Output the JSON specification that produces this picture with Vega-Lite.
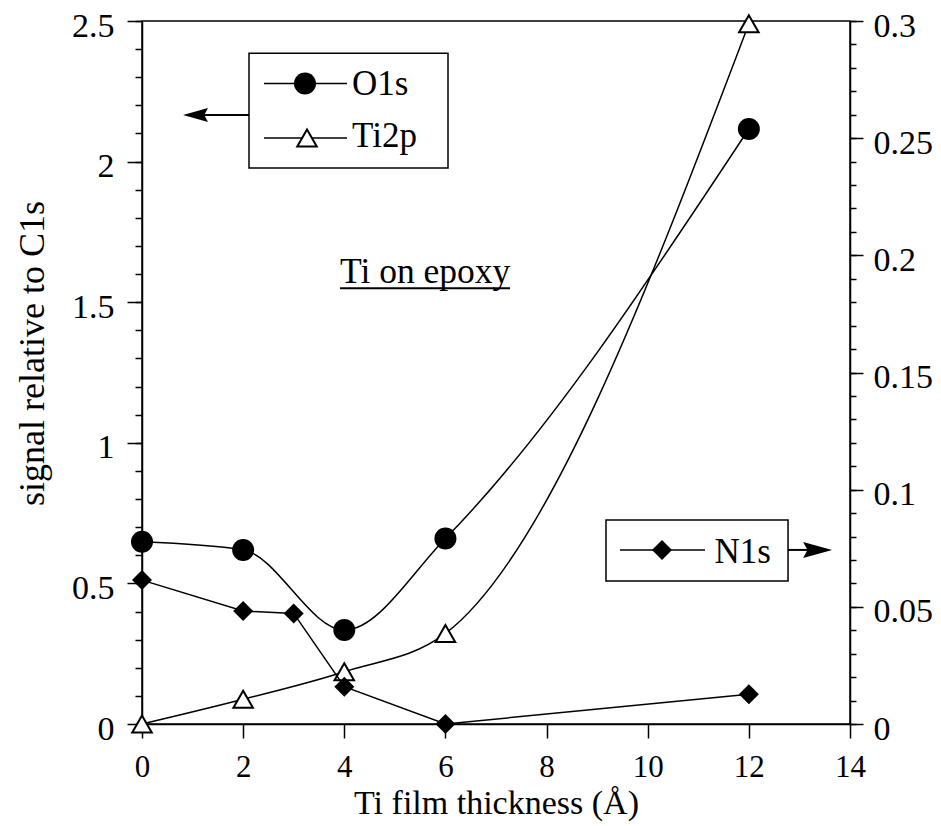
{
  "$schema": "https://vega.github.io/schema/vega-lite/v6.json",
  "width": 708,
  "height": 703,
  "autosize": {"type": "none"},
  "padding": {"left": 142, "top": 21, "right": 91, "bottom": 102},
  "background": "white",
  "config": {
    "font": "Liberation Serif, Times New Roman, serif",
    "view": {"stroke": "black", "strokeWidth": 1.5},
    "text": {"font": "Liberation Serif, Times New Roman, serif"},
    "axis": {
      "grid": false,
      "domainColor": "black",
      "domainWidth": 1.5,
      "tickColor": "black",
      "tickWidth": 1.5,
      "labelColor": "black",
      "labelFont": "Liberation Serif, Times New Roman, serif",
      "titleFont": "Liberation Serif, Times New Roman, serif",
      "titleColor": "black",
      "titleFontWeight": "normal",
      "labelFontSize": 34,
      "titleFontSize": 34,
      "labelOverlap": false
    }
  },
  "datasets": {
    "pts": [
      {"x": 0, "series": "O1s", "v": 0.648},
      {"x": 2, "series": "O1s", "v": 0.619},
      {"x": 4, "series": "O1s", "v": 0.334},
      {"x": 6, "series": "O1s", "v": 0.66},
      {"x": 12, "series": "O1s", "v": 2.116},
      {"x": 0, "series": "Ti2p", "v": 0.0},
      {"x": 2, "series": "Ti2p", "v": 0.088},
      {"x": 4, "series": "Ti2p", "v": 0.186},
      {"x": 6, "series": "Ti2p", "v": 0.322},
      {"x": 12, "series": "Ti2p", "v": 2.49},
      {"x": 0, "series": "N1s", "v": 0.0614},
      {"x": 2, "series": "N1s", "v": 0.0482},
      {"x": 3, "series": "N1s", "v": 0.0472},
      {"x": 4, "series": "N1s", "v": 0.0159},
      {"x": 6, "series": "N1s", "v": 0.0},
      {"x": 12, "series": "N1s", "v": 0.0127}
    ]
  },
  "layer": [
    {
      "layer": [
        {
          "data": {"name": "pts"},
          "transform": [{"filter": "datum.series === 'Ti2p'"}],
          "mark": {"type": "line", "interpolate": "monotone", "color": "black", "strokeWidth": 1.5},
          "encoding": {
            "x": {
              "field": "x",
              "type": "quantitative",
              "scale": {"domain": [0, 14], "nice": false},
              "axis": {
                "values": [0, 2, 4, 6, 8, 10, 12, 14],
                "tickSize": 14,
                "labelPadding": 14,
                "labelFontSize": 31,
                "labelFlush": false,
                "titlePadding": 4,
                "title": "Ti film thickness (Å)"
              }
            },
            "y": {
              "field": "v",
              "type": "quantitative",
              "scale": {"domain": [0, 2.5], "nice": false},
              "axis": {
                "orient": "left",
                "values": [0, 0.5, 1, 1.5, 2, 2.5],
                "format": "~g",
                "tickSize": 15,
                "labelPadding": 13,
                "labelOffset": 5,
                "titlePadding": 20,
                "titleFontSize": 36,
                "titleY": 332,
                "title": "signal relative to C1s"
              }
            }
          }
        },
        {
          "data": {"name": "pts"},
          "transform": [{"filter": "datum.series === 'Ti2p'"}],
          "mark": {"type": "point", "shape": "triangle-up", "filled": true, "fill": "white", "stroke": "black", "strokeWidth": 2, "size": 380, "opacity": 1},
          "encoding": {
            "x": {"field": "x", "type": "quantitative"},
            "y": {"field": "v", "type": "quantitative"}
          }
        },
        {
          "data": {"values": [{}]},
          "mark": {"type": "rect", "fill": "white", "stroke": "black", "strokeWidth": 1.5},
          "encoding": {
            "x": {"datum": 2.116},
            "x2": {"datum": 6.051},
            "y": {"datum": 2.385},
            "y2": {"datum": 1.977}
          }
        },
        {
          "data": {"values": [{}]},
          "mark": {"type": "rule", "color": "black", "strokeWidth": 1.5},
          "encoding": {
            "x": {"datum": 2.412},
            "x2": {"datum": 4.054},
            "y": {"datum": 2.278}
          }
        },
        {
          "data": {"values": [{}]},
          "mark": {"type": "rule", "color": "black", "strokeWidth": 1.5},
          "encoding": {
            "x": {"datum": 2.412},
            "x2": {"datum": 4.054},
            "y": {"datum": 2.084}
          }
        },
        {
          "data": {"values": [{}]},
          "mark": {"type": "point", "shape": "circle", "filled": true, "color": "black", "size": 484, "opacity": 1},
          "encoding": {
            "x": {"datum": 3.223},
            "y": {"datum": 2.278}
          }
        },
        {
          "data": {"values": [{}]},
          "mark": {"type": "point", "shape": "triangle-up", "filled": true, "fill": "white", "stroke": "black", "strokeWidth": 2, "size": 380, "opacity": 1},
          "encoding": {
            "x": {"datum": 3.263},
            "y": {"datum": 2.084}
          }
        },
        {
          "data": {"values": [{}]},
          "mark": {"type": "text", "text": "O1s", "align": "left", "baseline": "alphabetic", "fontSize": 35, "color": "black"},
          "encoding": {
            "x": {"datum": 4.153},
            "y": {"datum": 2.237}
          }
        },
        {
          "data": {"values": [{}]},
          "mark": {"type": "text", "text": "Ti2p", "align": "left", "baseline": "alphabetic", "fontSize": 35, "color": "black"},
          "encoding": {
            "x": {"datum": 4.153},
            "y": {"datum": 2.052}
          }
        },
        {
          "data": {"values": [{}]},
          "mark": {"type": "rule", "color": "black", "strokeWidth": 2},
          "encoding": {
            "x": {"datum": 2.116},
            "x2": {"datum": 1.15},
            "y": {"datum": 2.166}
          }
        },
        {
          "data": {"values": [{}]},
          "mark": {"type": "point", "shape": "M-1,0L1,-0.56L0.7,0L1,0.56Z", "filled": true, "color": "black", "size": 625, "opacity": 1},
          "encoding": {
            "x": {"datum": 1.058},
            "y": {"datum": 2.166}
          }
        },
        {
          "data": {"values": [{}]},
          "mark": {"type": "text", "text": "Ti on epoxy", "align": "left", "baseline": "alphabetic", "fontSize": 35.5, "color": "black"},
          "encoding": {
            "x": {"datum": 3.915},
            "y": {"datum": 1.568}
          }
        },
        {
          "data": {"values": [{}]},
          "mark": {"type": "rule", "color": "black", "strokeWidth": 2},
          "encoding": {
            "x": {"datum": 3.915},
            "x2": {"datum": 7.277},
            "y": {"datum": 1.55}
          }
        },
        {
          "data": {"values": [{}]},
          "mark": {"type": "rect", "fill": "white", "stroke": "black", "strokeWidth": 1.5},
          "encoding": {
            "x": {"datum": 9.175},
            "x2": {"datum": 12.775},
            "y": {"datum": 0.7255},
            "y2": {"datum": 0.5085}
          }
        },
        {
          "data": {"values": [{}]},
          "mark": {"type": "rule", "color": "black", "strokeWidth": 1.5},
          "encoding": {
            "x": {"datum": 9.452},
            "x2": {"datum": 11.133},
            "y": {"datum": 0.619}
          }
        },
        {
          "data": {"values": [{}]},
          "mark": {"type": "point", "shape": "diamond", "filled": true, "color": "black", "size": 400, "opacity": 1},
          "encoding": {
            "x": {"datum": 10.283},
            "y": {"datum": 0.619}
          }
        },
        {
          "data": {"values": [{}]},
          "mark": {"type": "text", "text": "N1s", "align": "left", "baseline": "alphabetic", "fontSize": 35, "color": "black"},
          "encoding": {
            "x": {"datum": 11.32},
            "y": {"datum": 0.5725}
          }
        },
        {
          "data": {"values": [{}]},
          "mark": {"type": "rule", "color": "black", "strokeWidth": 2},
          "encoding": {
            "x": {"datum": 12.775},
            "x2": {"datum": 13.25},
            "y": {"datum": 0.619}
          }
        },
        {
          "data": {"values": [{}]},
          "mark": {"type": "point", "shape": "M1,0L-1,-0.55L-0.7,0L-1,0.55Z", "filled": true, "color": "black", "size": 841, "opacity": 1},
          "encoding": {
            "x": {"datum": 13.36},
            "y": {"datum": 0.619}
          }
        }
      ]
    },
    {
      "data": {"name": "pts"},
      "transform": [{"filter": "datum.series === 'O1s'"}],
      "encoding": {
        "x": {"field": "x", "type": "quantitative"},
        "y": {
          "field": "v",
          "type": "quantitative",
          "scale": {"domain": [0, 2.5], "nice": false},
          "axis": {
            "orient": "left",
            "values": [0, 0.1, 0.2, 0.3, 0.4, 0.5, 0.6, 0.7, 0.8, 0.9, 1, 1.1, 1.2, 1.3, 1.4, 1.5, 1.6, 1.7, 1.8, 1.9, 2, 2.1, 2.2, 2.3, 2.4, 2.5],
            "tickSize": 7,
            "labels": false,
            "domain": false,
            "title": null
          }
        }
      },
      "layer": [
        {"mark": {"type": "line", "interpolate": "monotone", "color": "black", "strokeWidth": 1.5}},
        {"mark": {"type": "point", "shape": "circle", "filled": true, "color": "black", "size": 484, "opacity": 1}}
      ]
    },
    {
      "data": {"name": "pts"},
      "transform": [{"filter": "datum.series === 'N1s'"}],
      "mark": {"type": "line", "color": "black", "strokeWidth": 1.5},
      "encoding": {
        "x": {"field": "x", "type": "quantitative"},
        "y": {
          "field": "v",
          "type": "quantitative",
          "scale": {"domain": [0, 0.3], "nice": false},
          "axis": {
            "orient": "right",
            "values": [0, 0.05, 0.1, 0.15, 0.2, 0.25, 0.3],
            "format": "~g",
            "tickSize": 13,
            "labelPadding": 10,
            "labelOffset": 5,
            "title": null
          }
        }
      }
    },
    {
      "data": {"name": "pts"},
      "transform": [{"filter": "datum.series === 'N1s'"}],
      "mark": {"type": "point", "shape": "diamond", "filled": true, "color": "black", "size": 400, "opacity": 1},
      "encoding": {
        "x": {"field": "x", "type": "quantitative"},
        "y": {
          "field": "v",
          "type": "quantitative",
          "scale": {"domain": [0, 0.3], "nice": false},
          "axis": {
            "orient": "right",
            "values": [0, 0.01, 0.02, 0.03, 0.04, 0.05, 0.06, 0.07, 0.08, 0.09, 0.1, 0.11, 0.12, 0.13, 0.14, 0.15, 0.16, 0.17, 0.18, 0.19, 0.2, 0.21, 0.22, 0.23, 0.24, 0.25, 0.26, 0.27, 0.28, 0.29, 0.3],
            "tickSize": 6,
            "labels": false,
            "domain": false,
            "title": null
          }
        }
      }
    }
  ],
  "resolve": {"scale": {"y": "independent"}}
}
